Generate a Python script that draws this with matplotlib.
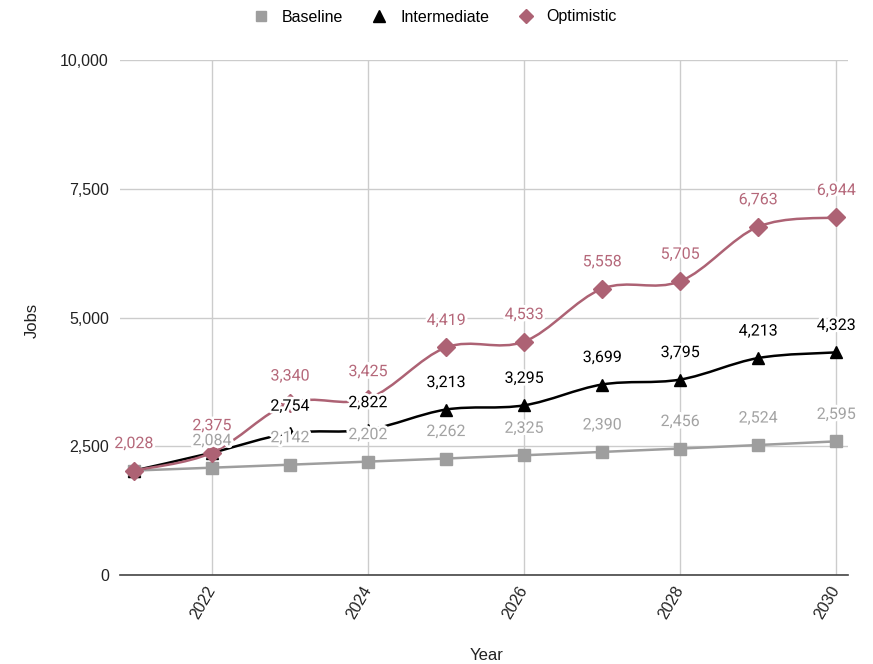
import matplotlib.pyplot as plt
import matplotlib.patheffects as pe
from matplotlib.path import Path
from matplotlib.patches import PathPatch
from matplotlib.lines import Line2D
from matplotlib.ticker import FuncFormatter

# -----------------------------
# Data
# -----------------------------
years = [2021, 2022, 2023, 2024, 2025, 2026, 2027, 2028, 2029, 2030]
baseline = [2028, 2084, 2142, 2202, 2262, 2325, 2390, 2456, 2524, 2595]
intermediate = [2028, 2375, 2754, 2822, 3213, 3295, 3699, 3795, 4213, 4323]
optimistic = [2028, 2375, 3340, 3425, 4419, 4533, 5558, 5705, 6763, 6944]

# labels that are hidden behind others in the original chart
hidden_labels = {"Baseline": [0], "Intermediate": [0, 1], "Optimistic": []}

series = [
    ("Baseline", baseline, "#9e9e9e", "#a3a3a3", "s", 8, 7),
    ("Intermediate", intermediate, "#000000", "#000000", "^", 8.5, 8),
    ("Optimistic", optimistic, "#ad6274", "#b5687a", "D", 9, 7.5),
]


def smooth_path(xs, ys, k=0.17):
    # cubic bezier through every point (cardinal spline style)
    verts = [(xs[0], ys[0])]
    codes = [Path.MOVETO]
    n = len(xs)
    for i in range(n - 1):
        x0, y0 = xs[max(i - 1, 0)], ys[max(i - 1, 0)]
        x1, y1 = xs[i], ys[i]
        x2, y2 = xs[i + 1], ys[i + 1]
        x3, y3 = xs[min(i + 2, n - 1)], ys[min(i + 2, n - 1)]
        c1 = (x1 + (x2 - x0) * k, y1 + (y2 - y0) * k)
        c2 = (x2 - (x3 - x1) * k, y2 - (y3 - y1) * k)
        verts += [c1, c2, (x2, y2)]
        codes += [Path.CURVE4, Path.CURVE4, Path.CURVE4]
    return Path(verts, codes)


fig = plt.figure(figsize=(8.73, 6.64), dpi=100)
ax = fig.add_axes([120 / 873, 1 - 575 / 664, (848 - 120) / 873, (575 - 60) / 664])

# -----------------------------
# Lines and markers
# -----------------------------
for name, vals, col, lcol, mk, ms, lms in series:
    ax.add_patch(PathPatch(smooth_path(years, vals), fill=False, edgecolor=col,
                           linewidth=1.8, zorder=3, capstyle="round"))
    ax.plot(years, vals, linestyle="none", marker=mk, markersize=ms, color=col,
            zorder=4, clip_on=False)

# -----------------------------
# Data labels (drawn on top with white halo)
# -----------------------------
for name, vals, col, lcol, mk, ms, lms in reversed(series):
    for i, (x, v) in enumerate(zip(years, vals)):
        if i in hidden_labels[name]:
            continue
        ax.annotate(f"{v:,}", (x, v), xytext=(0, 14), textcoords="offset points",
                    ha="center", va="bottom", fontsize=11.5, color=lcol,
                    family="Roboto", zorder=6, annotation_clip=False,
                    path_effects=[pe.withStroke(linewidth=4, foreground="white")])

# -----------------------------
# Axes styling
# -----------------------------
ax.set_xlim(2020.82, 2030.15)
ax.set_ylim(0, 10000)
ax.set_yticks([0, 2500, 5000, 7500, 10000])
ax.yaxis.set_major_formatter(FuncFormatter(lambda v, p: f"{int(v):,}"))
ax.set_xticks([2022, 2024, 2026, 2028, 2030])
ax.grid(True, color="#cccccc", linewidth=1, zorder=0)
ax.set_axisbelow(True)
for s in ["top", "right", "left"]:
    ax.spines[s].set_visible(False)
ax.spines["bottom"].set_color("#444444")
ax.spines["bottom"].set_linewidth(1.2)
ax.tick_params(length=0, labelsize=11.5, labelcolor="#222222")
ax.tick_params(axis="y", pad=8)
for lab in ax.get_yticklabels():
    lab.set_family("Liberation Sans")
for lab in ax.get_xticklabels():
    lab.set_family("Liberation Sans")
    lab.set_rotation(60)
    lab.set_rotation_mode("anchor")
    lab.set_ha("right")
    lab.set_va("center")
ax.tick_params(axis="x", pad=9)

fig.text(487 / 873, 1 - 655 / 664, "Year", ha="center", va="center",
         fontsize=12, family="Liberation Sans", color="#222222")
fig.text(32 / 873, 1 - 320 / 664, "Jobs", ha="center", va="center", rotation=90,
         fontsize=12, family="Liberation Sans", color="#222222")

# -----------------------------
# Legend
# -----------------------------
handles = [Line2D([], [], linestyle="none", marker=mk, markersize=lms, color=col)
           for name, vals, col, lcol, mk, ms, lms in series]
fig.legend(handles, [s[0] for s in series], loc="center", ncol=3,
           bbox_to_anchor=(434 / 873, 1 - 17 / 664), frameon=False,
           prop={"family": "Liberation Sans", "size": 11.5},
           handletextpad=0.7, columnspacing=1.7, handlelength=1.2)

fig.savefig("out.png", dpi=100)
